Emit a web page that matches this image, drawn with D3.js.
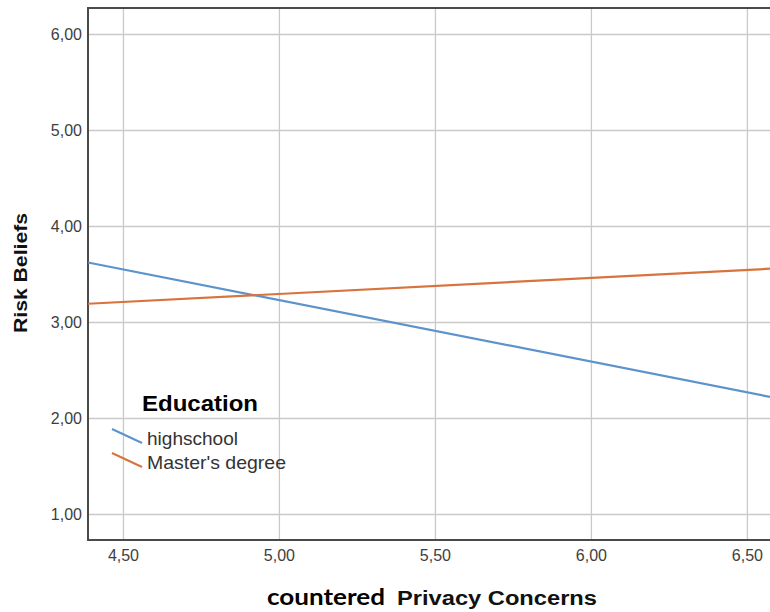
<!DOCTYPE html>
<html>
<head>
<meta charset="utf-8">
<script src="https://cdn.jsdelivr.net/npm/d3@7"></script>
<style>
  html, body { margin: 0; padding: 0; background: #fff; }
  svg { display: block; }
</style>
</head>
<body>
<svg id="chart" width="770" height="612"></svg>
<script>
// Fitted lines: Risk Beliefs against centred Privacy Concerns, by education group
const xEnds = [4.388, 6.574];
const highschool = [3.62, 2.22];
const masters = [3.19, 3.555];
const seriesNames = ["highschool", "Master's degree"];
const seriesColors = ["#5d93cc", "#d8733d"];
const xTicks = [4.5, 5.0, 5.5, 6.0, 6.5];
const yTicks = [1, 2, 3, 4, 5, 6];

const svg = d3.select("#chart");
const plotLeft = 88, plotRight = 770, plotTop = 8, plotBottom = 540;

const x = d3.scaleLinear().domain([4.388, 6.574]).range([plotLeft, plotRight]);
const y = d3.scaleLinear().domain([0.729, 6.271]).range([plotBottom, plotTop]);
const fmt = v => d3.format(".2f")(v).replace(".", ",");

// grid
svg.append("g")
  .attr("transform", `translate(0,${plotBottom})`)
  .call(d3.axisBottom(x).tickValues(xTicks).tickSize(-(plotBottom - plotTop)).tickFormat(""))
  .call(g => g.select(".domain").remove())
  .selectAll("line").attr("stroke", "#c9c9c9").attr("stroke-width", 1.3);
svg.append("g")
  .attr("transform", `translate(${plotLeft},0)`)
  .call(d3.axisLeft(y).tickValues(yTicks).tickSize(-(plotRight - plotLeft)).tickFormat(""))
  .call(g => g.select(".domain").remove())
  .selectAll("line").attr("stroke", "#c9c9c9").attr("stroke-width", 1.3);

// tick labels
const xAxis = svg.append("g")
  .attr("transform", `translate(0,${plotBottom})`)
  .call(d3.axisBottom(x).tickValues(xTicks).tickSize(0).tickPadding(10).tickFormat(fmt));
xAxis.select(".domain").remove();
xAxis.selectAll("text")
  .attr("font-family", "Liberation Sans, Arial, sans-serif")
  .attr("font-size", 16).attr("fill", "#3e3e3e");

const yAxis = svg.append("g")
  .attr("transform", `translate(${plotLeft},0)`)
  .call(d3.axisLeft(y).tickValues(yTicks).tickSize(0).tickPadding(6).tickFormat(fmt));
yAxis.select(".domain").remove();
yAxis.selectAll("text")
  .attr("font-family", "Liberation Sans, Arial, sans-serif")
  .attr("font-size", 16).attr("fill", "#3e3e3e");

// frame: left, bottom and top edges
const frame = svg.append("g").attr("stroke", "#4a4a4a").attr("stroke-width", 2).attr("fill", "none");
frame.append("line").attr("x1", plotLeft).attr("x2", plotLeft).attr("y1", plotTop).attr("y2", plotBottom);
frame.append("line").attr("x1", plotLeft - 1).attr("x2", plotRight).attr("y1", plotBottom).attr("y2", plotBottom);
frame.append("line").attr("x1", plotLeft - 1).attr("x2", plotRight).attr("y1", plotTop).attr("y2", plotTop);

// fit lines
const line = d3.line().x(d => x(d[0])).y(d => y(d[1]));
[highschool, masters].forEach((vals, i) => {
  svg.append("path")
    .datum(xEnds.map((xv, j) => [xv, vals[j]]))
    .attr("d", line)
    .attr("fill", "none")
    .attr("stroke", seriesColors[i])
    .attr("stroke-width", 2.2);
});

// legend
const legend = svg.append("g");
legend.append("text")
  .attr("x", 142).attr("y", 411)
  .attr("font-family", "Liberation Sans, Arial, sans-serif")
  .attr("font-weight", "bold").attr("font-size", 22)
  .attr("textLength", 116).attr("lengthAdjust", "spacingAndGlyphs")
  .attr("fill", "#000")
  .text("Education");
const legendWidths = [91, 139];
seriesNames.forEach((name, i) => {
  const cy = 439 + i * 24;
  legend.append("line")
    .attr("x1", 112).attr("y1", cy - 10)
    .attr("x2", 142).attr("y2", cy + 4)
    .attr("stroke", seriesColors[i]).attr("stroke-width", 2);
  legend.append("text")
    .attr("x", 147).attr("y", cy + 6)
    .attr("font-family", "Liberation Sans, Arial, sans-serif")
    .attr("font-size", 18.5)
    .attr("textLength", legendWidths[i]).attr("lengthAdjust", "spacingAndGlyphs")
    .attr("fill", "#333")
    .text(name);
});

// axis titles
svg.append("text")
  .attr("transform", "translate(27,273) rotate(-90)")
  .attr("text-anchor", "middle")
  .attr("font-family", "Liberation Sans, Arial, sans-serif")
  .attr("font-weight", "bold").attr("font-size", 19)
  .attr("textLength", 120).attr("lengthAdjust", "spacingAndGlyphs")
  .attr("fill", "#111")
  .text("Risk Beliefs");

svg.append("text")
  .attr("x", 267).attr("y", 605)
  .attr("font-family", "Lato, Carlito, sans-serif")
  .attr("font-weight", "bold").attr("font-size", 22)
  .attr("textLength", 118).attr("lengthAdjust", "spacingAndGlyphs")
  .attr("fill", "#000")
  .text("countered");
svg.append("text")
  .attr("x", 397).attr("y", 605)
  .attr("font-family", "Liberation Sans, Arial, sans-serif")
  .attr("font-weight", "bold").attr("font-size", 20)
  .attr("textLength", 200).attr("lengthAdjust", "spacingAndGlyphs")
  .attr("fill", "#111")
  .text("Privacy Concerns");
</script>
</body>
</html>
